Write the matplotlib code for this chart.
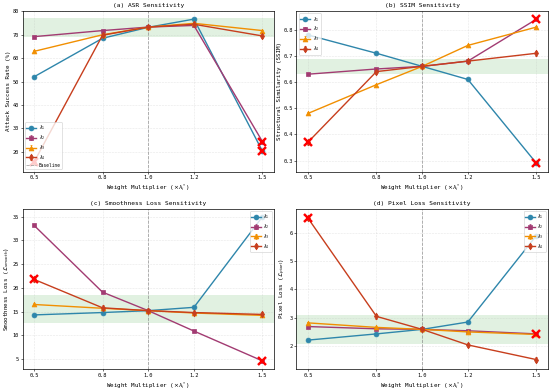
import numpy as np
import matplotlib
matplotlib.use("Agg")
import matplotlib.pyplot as plt

plt.rcParams["font.family"] = ["DejaVu Sans Mono", "DejaVu Sans"]
plt.rcParams["mathtext.fontset"] = "dejavusans"

MULTIPLIERS = [0.5, 0.8, 1.0, 1.2, 1.5]
SERIES_LABELS = [r"$\lambda_1$", r"$\lambda_2$", r"$\lambda_3$", r"$\lambda_4$"]
COLORS = ["#2E86AB", "#A23B72", "#F18F01", "#C73E1D"]
MARKERS = ["o", "s", "^", "d"]

ASR = [
    [52.0, 68.5, 73.2, 76.7, 20.2],
    [69.2, 71.8, 73.3, 74.0, 24.3],
    [62.9, 70.0, 73.3, 74.9, 71.8],
    [15.5, 69.8, 73.3, 74.5, 69.5],
]
ASR_ERR = [0.4, 0.4, 0.4, 0.9]
ASR_BAND = (69.0, 77.0)
ASR_FAIL = [(1.5, 20.2), (1.5, 24.3), (0.5, 15.5)]

SSIM = [
    [0.78, 0.71, 0.66, 0.61, 0.29],
    [0.63, 0.65, 0.66, 0.68, 0.84],
    [0.48, 0.59, 0.66, 0.74, 0.81],
    [0.37, 0.64, 0.66, 0.68, 0.71],
]
SSIM_ERR = [0.004, 0.004, 0.004, 0.01]
SSIM_BAND = (0.63, 0.69)
SSIM_FAIL = [(1.5, 0.29), (1.5, 0.84), (0.5, 0.37)]

SMOOTH = [
    [14.3, 14.8, 15.2, 15.9, 35.0],
    [33.2, 19.1, 15.2, 10.9, 4.6],
    [16.5, 15.7, 15.2, 14.7, 14.2],
    [21.8, 15.8, 15.2, 14.8, 14.4],
]
SMOOTH_ERR = [0.2, 0.2, 0.2, 0.5]
SMOOTH_BAND = (12.5, 18.5)
SMOOTH_FAIL = [(0.5, 21.8), (1.5, 4.6)]

PIXEL = [
    [2.20, 2.42, 2.58, 2.84, 5.90],
    [2.68, 2.60, 2.58, 2.53, 2.42],
    [2.81, 2.65, 2.58, 2.49, 2.40],
    [6.52, 3.04, 2.58, 2.03, 1.51],
]
PIXEL_ERR = [0.02, 0.02, 0.02, 0.08]
PIXEL_BAND = (2.05, 3.10)
PIXEL_FAIL = [(0.5, 6.52), (1.5, 2.42)]

PANELS = [
    ("(a) ASR Sensitivity", "Attack Success Rate (%)", ASR, ASR_ERR, ASR_BAND, ASR_FAIL, "lower left", True),
    ("(b) SSIM Sensitivity", "Structural Similarity (SSIM)", SSIM, SSIM_ERR, SSIM_BAND, SSIM_FAIL, "upper left", False),
    ("(c) Smoothness Loss Sensitivity", r"Smoothness Loss ($\mathcal{L}_{smooth}$)", SMOOTH, SMOOTH_ERR, SMOOTH_BAND, SMOOTH_FAIL, "upper right", False),
    ("(d) Pixel Loss Sensitivity", r"Pixel Loss ($\mathcal{L}_{pixel}$)", PIXEL, PIXEL_ERR, PIXEL_BAND, PIXEL_FAIL, "upper right", False),
]


def draw_panel(ax, title, ylabel, data, errs, band, fails, legend_loc, show_baseline):
    ax.axhspan(band[0], band[1], color="#2ca02c", alpha=0.14, lw=0)
    handles = []
    for values, err, label, color, marker in zip(data, errs, SERIES_LABELS, COLORS, MARKERS):
        h = ax.errorbar(MULTIPLIERS, values, yerr=err, label=label, color=color, marker=marker,
                        markersize=7, linewidth=2, capsize=2, elinewidth=1.2)
        handles.append(h)
    vline = ax.axvline(1.0, color="gray", linestyle="--", linewidth=1.2, alpha=0.7, label="Baseline")
    if show_baseline:
        handles.append(vline)
    for fx, fy in fails:
        ax.plot(fx, fy, marker="x", color="red", markersize=12, markeredgewidth=3.5, zorder=5)

    ax.set_title(title, fontsize=9, pad=5)
    ax.set_xlabel(r"Weight Multiplier ($\times\lambda_i^*$)", fontsize=8.5, labelpad=3)
    ax.set_ylabel(ylabel, fontsize=8.5, labelpad=3)
    ax.set_xticks(MULTIPLIERS)
    ax.tick_params(labelsize=7.5, length=3, pad=2)
    ax.grid(True, linestyle="--", alpha=0.3, linewidth=0.8)
    ax.legend(handles=handles, loc=legend_loc, fontsize=6.5, framealpha=0.8, handlelength=2.2,
              borderpad=0.35, labelspacing=0.2, handletextpad=0.5)
    for spine in ax.spines.values():
        spine.set_linewidth(1.0)


fig, axes = plt.subplots(2, 2, figsize=(11, 7.78), dpi=50)
for ax, panel in zip(axes.flat, PANELS):
    draw_panel(ax, *panel)

fig.subplots_adjust(left=0.041, right=0.996, bottom=0.051, top=0.972, wspace=0.09, hspace=0.23)
fig.savefig("out.png", dpi=50)
